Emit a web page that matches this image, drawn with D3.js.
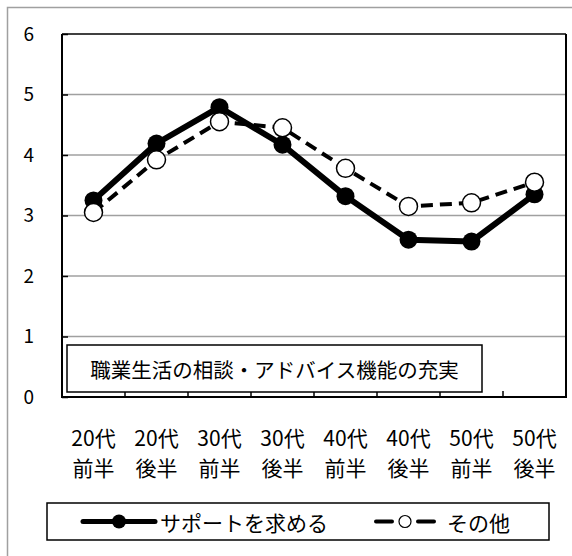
<!DOCTYPE html>
<html lang="ja">
<head>
<meta charset="UTF-8">
<title>職業生活の相談・アドバイス機能の充実</title>
<script src="https://d3js.org/d3.v7.min.js"></script>
<style>
    body { margin: 0; background: #fff; }
    text { font-family: "Noto Sans CJK JP", "Noto Sans", sans-serif; fill: #000; }
    .grid line { stroke: #a0a0a0; stroke-width: 1.5; }
    .axis path { display: none; }
    .axis line { stroke: #000; stroke-width: 1.5; }
</style>
</head>
<body>
<svg width="572" height="556"></svg>
<script>
    // data
    const ages = ["20代", "20代", "30代", "30代", "40代", "40代", "50代", "50代"];
    const halves = ["前半", "後半", "前半", "後半", "前半", "後半", "前半", "後半"];
    const supportValues = [3.25, 4.19, 4.79, 4.17, 3.32, 2.60, 2.57, 3.35];
    const otherValues = [3.05, 3.92, 4.55, 4.45, 3.78, 3.15, 3.21, 3.55];
    const yTicks = [0, 1, 2, 3, 4, 5, 6];
    const seriesNames = ["サポートを求める", "その他"];
    const chartNote = "職業生活の相談・アドバイス機能の充実";

    const svg = d3.select("svg");
    const plot = {left: 62, top: 34, right: 566, bottom: 397};

    const idx = d3.range(ages.length);
    const x = d3.scaleBand().domain(idx).range([plot.left, plot.right]).padding(0);
    const y = d3.scaleLinear().domain([0, 6]).range([plot.bottom, plot.top]);
    const cx = i => x(i) + x.bandwidth() / 2;

    // outer chart frame (runs past the right and bottom edge)
    svg.append("rect")
        .attr("x", 7.5).attr("y", 7.5)
        .attr("width", 700).attr("height", 700)
        .attr("fill", "#fff")
        .attr("stroke", "#a0a0a0").attr("stroke-width", 1.5);

    // horizontal gridlines
    svg.append("g").attr("class", "grid")
        .selectAll("line")
        .data(yTicks.filter(d => d > 0 && d < 6))
        .join("line")
        .attr("x1", plot.left).attr("x2", plot.right)
        .attr("y1", d => y(d)).attr("y2", d => y(d));

    // y axis with inward ticks
    const yAxis = svg.append("g")
        .attr("class", "axis")
        .attr("transform", `translate(${plot.left},0)`)
        .call(d3.axisLeft(y).tickValues(yTicks).tickFormat(d3.format("d"))
            .tickSizeInner(-6).tickSizeOuter(0).tickPadding(28));
    yAxis.selectAll("text").style("font-size", "19px");

    // ticks on the x axis at category boundaries
    svg.append("g")
        .selectAll("line")
        .data(idx.slice(1))
        .join("line")
        .attr("x1", d => x(d)).attr("x2", d => x(d))
        .attr("y1", plot.bottom).attr("y2", plot.bottom - 6)
        .attr("stroke", "#000").attr("stroke-width", 1.5);

    // plot frame
    svg.append("line").attr("x1", plot.left).attr("x2", plot.right)
        .attr("y1", y(6)).attr("y2", y(6)).attr("stroke", "#000").attr("stroke-width", 1.5);
    svg.append("line").attr("x1", plot.right).attr("x2", plot.right)
        .attr("y1", plot.top).attr("y2", plot.bottom).attr("stroke", "#000").attr("stroke-width", 2);
    svg.append("line").attr("x1", plot.left).attr("x2", plot.left)
        .attr("y1", plot.top).attr("y2", plot.bottom + 1).attr("stroke", "#000").attr("stroke-width", 2);
    svg.append("line").attr("x1", plot.left - 1).attr("x2", plot.right + 1)
        .attr("y1", plot.bottom).attr("y2", plot.bottom).attr("stroke", "#000").attr("stroke-width", 2);

    // x labels, two lines
    const xl = svg.append("g").selectAll("g").data(idx).join("g");
    xl.append("text")
        .attr("x", cx).attr("y", 446)
        .attr("text-anchor", "middle").style("font-size", "21px")
        .text(i => ages[i]);
    xl.append("text")
        .attr("x", cx).attr("y", 476)
        .attr("text-anchor", "middle").style("font-size", "21px")
        .text(i => halves[i]);

    // note box inside the plot
    svg.append("rect")
        .attr("x", 67).attr("y", 345).attr("width", 415).attr("height", 47)
        .attr("fill", "#fff").attr("stroke", "#000").attr("stroke-width", 1.5);
    svg.append("text")
        .attr("x", 274.5).attr("y", 368.5)
        .attr("text-anchor", "middle").attr("dominant-baseline", "central")
        .style("font-size", "20.5px")
        .text(chartNote);

    const line = d3.line().x((d, i) => cx(i)).y(d => y(d));

    // solid series
    svg.append("path").datum(supportValues)
        .attr("d", line).attr("fill", "none")
        .attr("stroke", "#000").attr("stroke-width", 6).attr("stroke-linejoin", "round");
    svg.append("g").selectAll("circle").data(supportValues).join("circle")
        .attr("cx", (d, i) => cx(i)).attr("cy", d => y(d)).attr("r", 9)
        .attr("fill", "#000");

    // dashed series
    svg.append("path").datum(otherValues)
        .attr("d", line).attr("fill", "none")
        .attr("stroke", "#000").attr("stroke-width", 4)
        .attr("stroke-dasharray", "12,7");
    svg.append("g").selectAll("circle").data(otherValues).join("circle")
        .attr("cx", (d, i) => cx(i)).attr("cy", d => y(d)).attr("r", 9)
        .attr("fill", "#fff").attr("stroke", "#000").attr("stroke-width", 1.5);

    // legend
    const lg = svg.append("g");
    lg.append("rect")
        .attr("x", 47).attr("y", 503).attr("width", 502).attr("height", 37)
        .attr("fill", "#fff").attr("stroke", "#000").attr("stroke-width", 1.5);
    lg.append("line").attr("x1", 83).attr("x2", 155).attr("y1", 521.5).attr("y2", 521.5)
        .attr("stroke", "#000").attr("stroke-width", 5).attr("stroke-linecap", "round");
    lg.append("circle").attr("cx", 119).attr("cy", 521.5).attr("r", 7).attr("fill", "#000");
    lg.append("text").attr("x", 160).attr("y", 521.5)
        .attr("dominant-baseline", "central").style("font-size", "21px")
        .text(seriesNames[0]);

    lg.append("line").attr("x1", 376).attr("x2", 392).attr("y1", 521.5).attr("y2", 521.5)
        .attr("stroke", "#000").attr("stroke-width", 4).attr("stroke-linecap", "round");
    lg.append("line").attr("x1", 418).attr("x2", 434).attr("y1", 521.5).attr("y2", 521.5)
        .attr("stroke", "#000").attr("stroke-width", 4).attr("stroke-linecap", "round");
    lg.append("circle").attr("cx", 405).attr("cy", 521.5).attr("r", 6)
        .attr("fill", "#fff").attr("stroke", "#000").attr("stroke-width", 1.2);
    lg.append("text").attr("x", 447).attr("y", 521.5)
        .attr("dominant-baseline", "central").style("font-size", "21px")
        .text(seriesNames[1]);
</script>
</body>
</html>
